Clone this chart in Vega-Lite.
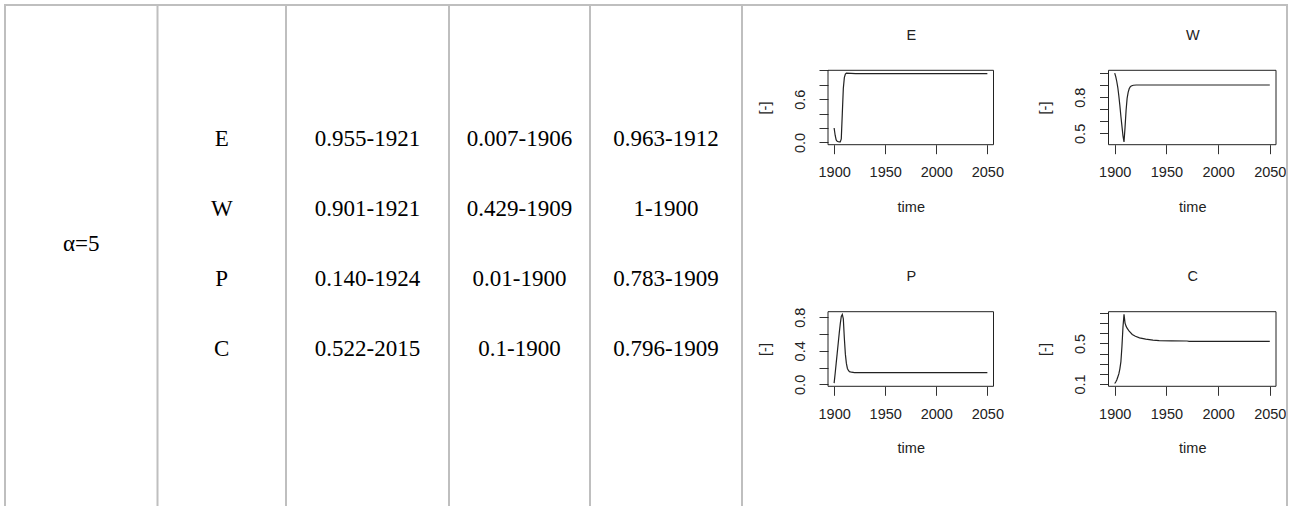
{
  "$schema": "https://vega.github.io/schema/vega-lite/v6.json",
  "width": 1293,
  "height": 506,
  "padding": 0,
  "autosize": {"type": "none"},
  "background": "white",
  "config": {
    "view": {"stroke": null},
    "axis": {"grid": false, "domain": false, "labelFont": "Liberation Sans", "labelFontSize": 14.5, "labelColor": "#222", "titleFont": "Liberation Sans", "titleFontSize": 14.5, "titleFontWeight": "normal", "titleColor": "#222", "tickColor": "#333", "tickSize": 9, "tickWidth": 1, "labelFlush": false, "labelOverlap": false, "labelBound": false}
  },
  "datasets": {
    "series": [
      {"series": "E", "time": 1900, "value": 0.2}, {"series": "E", "time": 1901, "value": 0.1}, {"series": "E", "time": 1902, "value": 0.035}, {"series": "E", "time": 1903, "value": 0.015}, {"series": "E", "time": 1904, "value": 0.01}, {"series": "E", "time": 1905, "value": 0.008}, {"series": "E", "time": 1906, "value": 0.007}, {"series": "E", "time": 1907, "value": 0.05}, {"series": "E", "time": 1908, "value": 0.4}, {"series": "E", "time": 1909, "value": 0.75}, {"series": "E", "time": 1910, "value": 0.9}, {"series": "E", "time": 1911, "value": 0.95}, {"series": "E", "time": 1912, "value": 0.963}, {"series": "E", "time": 1921, "value": 0.955}, {"series": "E", "time": 2050, "value": 0.955},
      {"series": "W", "time": 1900, "value": 1.0}, {"series": "W", "time": 1901, "value": 0.97}, {"series": "W", "time": 1902, "value": 0.93}, {"series": "W", "time": 1903, "value": 0.88}, {"series": "W", "time": 1904, "value": 0.81}, {"series": "W", "time": 1905, "value": 0.73}, {"series": "W", "time": 1906, "value": 0.64}, {"series": "W", "time": 1907, "value": 0.56}, {"series": "W", "time": 1908, "value": 0.48}, {"series": "W", "time": 1909, "value": 0.429}, {"series": "W", "time": 1910, "value": 0.55}, {"series": "W", "time": 1911, "value": 0.69}, {"series": "W", "time": 1912, "value": 0.79}, {"series": "W", "time": 1913, "value": 0.84}, {"series": "W", "time": 1914, "value": 0.87}, {"series": "W", "time": 1915, "value": 0.885}, {"series": "W", "time": 1916, "value": 0.893}, {"series": "W", "time": 1918, "value": 0.899}, {"series": "W", "time": 1921, "value": 0.901}, {"series": "W", "time": 2050, "value": 0.901},
      {"series": "P", "time": 1900, "value": 0.015}, {"series": "P", "time": 1901, "value": 0.13}, {"series": "P", "time": 1902, "value": 0.25}, {"series": "P", "time": 1903, "value": 0.37}, {"series": "P", "time": 1904, "value": 0.49}, {"series": "P", "time": 1905, "value": 0.61}, {"series": "P", "time": 1906, "value": 0.72}, {"series": "P", "time": 1907, "value": 0.81}, {"series": "P", "time": 1908, "value": 0.833}, {"series": "P", "time": 1909, "value": 0.78}, {"series": "P", "time": 1910, "value": 0.55}, {"series": "P", "time": 1911, "value": 0.36}, {"series": "P", "time": 1912, "value": 0.25}, {"series": "P", "time": 1913, "value": 0.19}, {"series": "P", "time": 1914, "value": 0.165}, {"series": "P", "time": 1915, "value": 0.152}, {"series": "P", "time": 1917, "value": 0.145}, {"series": "P", "time": 1920, "value": 0.141}, {"series": "P", "time": 1924, "value": 0.14}, {"series": "P", "time": 2050, "value": 0.14},
      {"series": "C", "time": 1900, "value": 0.105}, {"series": "C", "time": 1901, "value": 0.12}, {"series": "C", "time": 1902, "value": 0.14}, {"series": "C", "time": 1903, "value": 0.17}, {"series": "C", "time": 1904, "value": 0.2}, {"series": "C", "time": 1905, "value": 0.25}, {"series": "C", "time": 1906, "value": 0.32}, {"series": "C", "time": 1907, "value": 0.47}, {"series": "C", "time": 1908, "value": 0.66}, {"series": "C", "time": 1909, "value": 0.786}, {"series": "C", "time": 1910, "value": 0.7}, {"series": "C", "time": 1911, "value": 0.67}, {"series": "C", "time": 1912, "value": 0.65}, {"series": "C", "time": 1914, "value": 0.62}, {"series": "C", "time": 1917, "value": 0.588}, {"series": "C", "time": 1920, "value": 0.57}, {"series": "C", "time": 1924, "value": 0.555}, {"series": "C", "time": 1930, "value": 0.542}, {"series": "C", "time": 1937, "value": 0.533}, {"series": "C", "time": 1943, "value": 0.527}, {"series": "C", "time": 1955, "value": 0.525}, {"series": "C", "time": 1970, "value": 0.524}, {"series": "C", "time": 1972, "value": 0.52}, {"series": "C", "time": 2015, "value": 0.52}, {"series": "C", "time": 2050, "value": 0.52}
    ]
  },
  "resolve": {"scale": {"x": "independent", "y": "independent"}, "axis": {"x": "independent", "y": "independent"}},
  "layer": [
    {
      "layer": [
        {
          "data": {"values": [{"edge": 0}, {"edge": 1}, {"edge": 2}, {"edge": 3}, {"edge": 4}, {"edge": 5}, {"edge": 6}]},
          "mark": {"type": "rule", "color": "#bfbfbf", "strokeWidth": 2, "strokeCap": "square"},
          "encoding": {
            "x": {"field": "edge", "type": "quantitative", "scale": {"domain": [0, 1, 2, 3, 4, 5, 6], "range": [5, 157.5, 286, 449, 590, 742, 1287], "nice": false, "zero": false}, "axis": null},
            "y": {"datum": 0, "type": "quantitative", "scale": {"domain": [0, 1], "range": [5, 506], "nice": false, "zero": false}, "axis": null},
            "y2": {"datum": 1}
          }
        },
        {
          "data": {"values": [{}]},
          "mark": {"type": "rule", "color": "#bfbfbf", "strokeWidth": 2, "strokeCap": "square"},
          "encoding": {
            "x": {"datum": 0, "type": "quantitative", "axis": null},
            "x2": {"datum": 6},
            "y": {"datum": 0, "type": "quantitative", "axis": null}
          }
        }
      ]
    },
    {
      "layer": [
        {
          "data": {"values": [
            {"row": 1, "col": 2, "label": "E"}, {"row": 1, "col": 3, "label": "0.955-1921"}, {"row": 1, "col": 4, "label": "0.007-1906"}, {"row": 1, "col": 5, "label": "0.963-1912"},
            {"row": 2, "col": 2, "label": "W"}, {"row": 2, "col": 3, "label": "0.901-1921"}, {"row": 2, "col": 4, "label": "0.429-1909"}, {"row": 2, "col": 5, "label": "1-1900"},
            {"row": 3, "col": 2, "label": "P"}, {"row": 3, "col": 3, "label": "0.140-1924"}, {"row": 3, "col": 4, "label": "0.01-1900"}, {"row": 3, "col": 5, "label": "0.783-1909"},
            {"row": 4, "col": 2, "label": "C"}, {"row": 4, "col": 3, "label": "0.522-2015"}, {"row": 4, "col": 4, "label": "0.1-1900"}, {"row": 4, "col": 5, "label": "0.796-1909"}
          ]},
          "mark": {"type": "text", "font": "Liberation Serif", "fontSize": 23, "color": "#000", "align": "center", "baseline": "alphabetic"},
          "encoding": {
            "x": {"field": "col", "type": "quantitative", "scale": {"domain": [1, 2, 3, 4, 5], "range": [81.25, 221.75, 367.5, 519.5, 666], "nice": false, "zero": false}, "axis": null},
            "y": {"field": "row", "type": "quantitative", "scale": {"domain": [1, 4], "range": [146, 356], "nice": false, "zero": false}, "axis": null},
            "text": {"field": "label"}
          }
        },
        {
          "data": {"values": [{"label": "α=5"}]},
          "mark": {"type": "text", "font": "Liberation Serif", "fontSize": 23, "color": "#000", "align": "center", "baseline": "alphabetic"},
          "encoding": {
            "x": {"datum": 1, "type": "quantitative", "axis": null},
            "y": {"datum": 2.5, "type": "quantitative", "axis": null},
            "text": {"field": "label"}
          }
        }
      ]
    },
    {
      "resolve": {"axis": {"x": "independent", "y": "independent"}},
      "layer": [
        {
          "data": {"values": [{}]},
          "mark": {"type": "rect", "filled": false, "stroke": "#222", "strokeWidth": 1},
          "encoding": {
            "x": {"datum": 1894, "type": "quantitative", "scale": {"domain": [1894, 2056], "range": [828, 993.5], "nice": false, "zero": false}, "axis": {"orient": "top", "offset": -70.3, "title": "E", "labels": false, "ticks": false, "domain": false, "titlePadding": 31, "titleBaseline": "alphabetic"}},
            "x2": {"datum": 2056},
            "y": {"datum": -0.0312, "type": "quantitative", "scale": {"domain": [-0.0312, 1.0012], "range": [144.7, 70.3], "nice": false, "zero": false}, "axis": null},
            "y2": {"datum": 1.0012}
          }
        },
        {
          "data": {"name": "series"},
          "transform": [{"filter": "datum.series === 'E'"}],
          "mark": {"type": "line", "stroke": "#222", "strokeWidth": 1.2},
          "encoding": {
            "x": {"field": "time", "type": "quantitative", "scale": {"domain": [1894, 2056], "range": [828, 993.5], "nice": false, "zero": false}, "axis": {"orient": "bottom", "offset": -361.3, "values": [1900, 1950, 2000, 2050], "format": "d", "title": "time", "labelPadding": 12, "titlePadding": 21}},
            "y": {"field": "value", "type": "quantitative", "scale": {"domain": [-0.0312, 1.0012], "range": [144.7, 70.3], "nice": false, "zero": false}, "axis": {"orient": "left", "offset": -828, "values": [0, 0.2, 0.4, 0.6, 0.8, 1], "format": ".1f", "labelExpr": "indexof(['0.0','0.6'], datum.label) >= 0 ? datum.label : ''", "title": "[-]", "labelAngle": 270, "labelAlign": "center", "labelBaseline": "alphabetic", "labelPadding": 15, "titleAngle": 270, "titleBaseline": "bottom", "titlePadding": 20}}
          }
        }
      ]
    },
    {
      "resolve": {"axis": {"x": "independent", "y": "independent"}},
      "layer": [
        {
          "data": {"values": [{}]},
          "mark": {"type": "rect", "filled": false, "stroke": "#222", "strokeWidth": 1},
          "encoding": {
            "x": {"datum": 1894, "type": "quantitative", "scale": {"domain": [1894, 2056], "range": [1108.5, 1276], "nice": false, "zero": false}, "axis": {"orient": "top", "offset": -70.3, "title": "W", "labels": false, "ticks": false, "domain": false, "titlePadding": 31, "titleBaseline": "alphabetic"}},
            "x2": {"datum": 2056},
            "y": {"datum": 0.4062, "type": "quantitative", "scale": {"domain": [0.4062, 1.0228], "range": [144.7, 70.3], "nice": false, "zero": false}, "axis": null},
            "y2": {"datum": 1.0228}
          }
        },
        {
          "data": {"name": "series"},
          "transform": [{"filter": "datum.series === 'W'"}],
          "mark": {"type": "line", "stroke": "#222", "strokeWidth": 1.2},
          "encoding": {
            "x": {"field": "time", "type": "quantitative", "scale": {"domain": [1894, 2056], "range": [1108.5, 1276], "nice": false, "zero": false}, "axis": {"orient": "bottom", "offset": -361.3, "values": [1900, 1950, 2000, 2050], "format": "d", "title": "time", "labelPadding": 12, "titlePadding": 21}},
            "y": {"field": "value", "type": "quantitative", "scale": {"domain": [0.4062, 1.0228], "range": [144.7, 70.3], "nice": false, "zero": false}, "axis": {"orient": "left", "offset": -1108.5, "values": [0.5, 0.6, 0.7, 0.8, 0.9, 1.0], "format": ".1f", "labelExpr": "indexof(['0.5','0.8'], datum.label) >= 0 ? datum.label : ''", "title": "[-]", "labelAngle": 270, "labelAlign": "center", "labelBaseline": "alphabetic", "labelPadding": 15, "titleAngle": 270, "titleBaseline": "bottom", "titlePadding": 20}}
          }
        }
      ]
    },
    {
      "resolve": {"axis": {"x": "independent", "y": "independent"}},
      "layer": [
        {
          "data": {"values": [{}]},
          "mark": {"type": "rect", "filled": false, "stroke": "#222", "strokeWidth": 1},
          "encoding": {
            "x": {"datum": 1894, "type": "quantitative", "scale": {"domain": [1894, 2056], "range": [828, 993.5], "nice": false, "zero": false}, "axis": {"orient": "top", "offset": -311.7, "title": "P", "labels": false, "ticks": false, "domain": false, "titlePadding": 31, "titleBaseline": "alphabetic"}},
            "x2": {"datum": 2056},
            "y": {"datum": -0.0229, "type": "quantitative", "scale": {"domain": [-0.0229, 0.8659], "range": [386.3, 311.7], "nice": false, "zero": false}, "axis": null},
            "y2": {"datum": 0.8659}
          }
        },
        {
          "data": {"name": "series"},
          "transform": [{"filter": "datum.series === 'P'"}],
          "mark": {"type": "line", "stroke": "#222", "strokeWidth": 1.2},
          "encoding": {
            "x": {"field": "time", "type": "quantitative", "scale": {"domain": [1894, 2056], "range": [828, 993.5], "nice": false, "zero": false}, "axis": {"orient": "bottom", "offset": -119.7, "values": [1900, 1950, 2000, 2050], "format": "d", "title": "time", "labelPadding": 12, "titlePadding": 21}},
            "y": {"field": "value", "type": "quantitative", "scale": {"domain": [-0.0229, 0.8659], "range": [386.3, 311.7], "nice": false, "zero": false}, "axis": {"orient": "left", "offset": -828, "values": [0, 0.2, 0.4, 0.6, 0.8], "format": ".1f", "labelExpr": "indexof(['0.0','0.4','0.8'], datum.label) >= 0 ? datum.label : ''", "title": "[-]", "labelAngle": 270, "labelAlign": "center", "labelBaseline": "alphabetic", "labelPadding": 15, "titleAngle": 270, "titleBaseline": "bottom", "titlePadding": 20}}
          }
        }
      ]
    },
    {
      "resolve": {"axis": {"x": "independent", "y": "independent"}},
      "layer": [
        {
          "data": {"values": [{}]},
          "mark": {"type": "rect", "filled": false, "stroke": "#222", "strokeWidth": 1},
          "encoding": {
            "x": {"datum": 1894, "type": "quantitative", "scale": {"domain": [1894, 2056], "range": [1108.5, 1276], "nice": false, "zero": false}, "axis": {"orient": "top", "offset": -311.7, "title": "C", "labels": false, "ticks": false, "domain": false, "titlePadding": 31, "titleBaseline": "alphabetic"}},
            "x2": {"datum": 2056},
            "y": {"datum": 0.0778, "type": "quantitative", "scale": {"domain": [0.0778, 0.8122], "range": [386.3, 311.7], "nice": false, "zero": false}, "axis": null},
            "y2": {"datum": 0.8122}
          }
        },
        {
          "data": {"name": "series"},
          "transform": [{"filter": "datum.series === 'C'"}],
          "mark": {"type": "line", "stroke": "#222", "strokeWidth": 1.2},
          "encoding": {
            "x": {"field": "time", "type": "quantitative", "scale": {"domain": [1894, 2056], "range": [1108.5, 1276], "nice": false, "zero": false}, "axis": {"orient": "bottom", "offset": -119.7, "values": [1900, 1950, 2000, 2050], "format": "d", "title": "time", "labelPadding": 12, "titlePadding": 21}},
            "y": {"field": "value", "type": "quantitative", "scale": {"domain": [0.0778, 0.8122], "range": [386.3, 311.7], "nice": false, "zero": false}, "axis": {"orient": "left", "offset": -1108.5, "values": [0.1, 0.2, 0.3, 0.4, 0.5, 0.6, 0.7, 0.8], "format": ".1f", "labelExpr": "indexof(['0.1','0.5'], datum.label) >= 0 ? datum.label : ''", "title": "[-]", "labelAngle": 270, "labelAlign": "center", "labelBaseline": "alphabetic", "labelPadding": 15, "titleAngle": 270, "titleBaseline": "bottom", "titlePadding": 20}}
          }
        }
      ]
    }
  ]
}
